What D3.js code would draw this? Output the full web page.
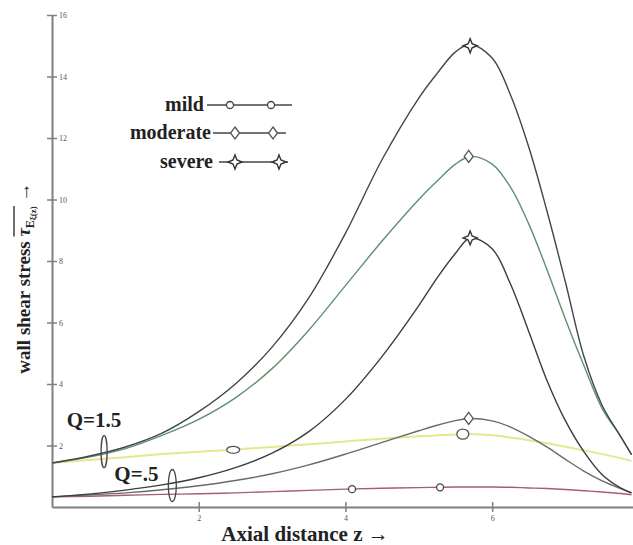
<!DOCTYPE html>
<html>
<head>
<meta charset="utf-8">
<script src="https://cdn.jsdelivr.net/npm/d3@7"></script>
<style>
  body { margin: 0; background: #fff; }
  svg text { font-family: "Liberation Serif", "DejaVu Serif", serif; }
</style>
</head>
<body>
<div id="chart"></div>
<script>

const zVals = [0, 0.5, 1, 1.5, 2, 2.5, 3, 3.5, 4, 4.5, 5, 5.25, 5.5, 5.7, 6, 6.25, 6.5, 6.75, 7, 7.25, 7.5, 7.75, 7.9];

// Q = 1.5
const severeHigh   = [1.43, 1.65, 1.95, 2.4, 3.1, 4.0, 5.2, 6.8, 8.9, 11.3, 13.3, 14.1, 14.8, 15.05, 14.6, 13.4, 11.7, 9.6, 7.3, 4.9, 3.3, 2.3, 1.7];
const moderateHigh = [1.43, 1.62, 1.9, 2.33, 2.85, 3.55, 4.5, 5.75, 7.2, 8.65, 10.0, 10.6, 11.15, 11.4, 11.15, 10.4, 9.2, 7.7, 6.1, 4.6, 3.2, 2.3, 1.7];
const mildHigh     = [1.43, 1.53, 1.62, 1.72, 1.8, 1.87, 1.95, 2.04, 2.13, 2.22, 2.3, 2.33, 2.36, 2.37, 2.33, 2.26, 2.17, 2.07, 1.96, 1.84, 1.72, 1.59, 1.5];

// Q = 0.5
const severeLow    = [0.33, 0.42, 0.55, 0.72, 0.95, 1.28, 1.75, 2.45, 3.5, 4.9, 6.55, 7.45, 8.25, 8.75, 8.4, 7.25, 5.7, 4.1, 2.8, 1.8, 1.05, 0.62, 0.45];
const moderateLow  = [0.33, 0.39, 0.46, 0.56, 0.69, 0.86, 1.08, 1.37, 1.72, 2.1, 2.48, 2.66, 2.81, 2.88, 2.8, 2.6, 2.3, 1.95, 1.55, 1.17, 0.85, 0.6, 0.47];
const mildLow      = [0.33, 0.35, 0.38, 0.41, 0.43, 0.46, 0.5, 0.54, 0.58, 0.61, 0.63, 0.64, 0.65, 0.65, 0.65, 0.64, 0.62, 0.6, 0.57, 0.53, 0.49, 0.44, 0.4];

const xTicks = [2, 4, 6];
const yTicks = [2, 4, 6, 8, 10, 12, 14, 16];
const legendLabels = ["mild", "moderate", "severe"];

// marker spots on the curves: [z, value, kind]
const markers = [
  [5.7, 15.0, "severe"], [5.7, 8.75, "severe"],
  [5.68, 11.4, "moderate"], [5.68, 2.88, "moderate"],
  [4.09, 0.58, "mild"], [5.29, 0.64, "mild"],
  [2.47, 1.86, "mildWide"], [5.6, 2.37, "mildRound"]
];

// Q labels and the ellipses that bundle the curves
const qLabels = [["Q=1.5", 0.2, 2.6], ["Q=.5", 0.85, 0.85]];
const qRings = [[0.71, 1.8], [1.64, 0.7]];

const width = 633, height = 545;

const svg = d3.select("#chart").append("svg")
  .attr("width", width)
  .attr("height", height);

const x = d3.scaleLinear().domain([0, 7.92]).range([52, 633]);
const y = d3.scaleLinear().domain([0, 16]).range([507, 15]);

// y axis, ticks cross the line and labels sit inside
const yAxis = svg.append("g")
  .attr("transform", `translate(${x(0)},0)`)
  .call(d3.axisRight(y).tickValues(yTicks).tickSize(5).tickSizeOuter(0).tickPadding(2));
yAxis.select(".domain").attr("stroke", "#808080").attr("stroke-width", 2);
yAxis.selectAll(".tick line").attr("x1", -5).attr("stroke", "#808080").attr("stroke-width", 1.5);
yAxis.selectAll(".tick text").attr("font-size", 8).attr("fill", "#555").attr("font-family", "Liberation Serif");

const xAxis = svg.append("g")
  .attr("transform", `translate(0,${y(0)})`)
  .call(d3.axisBottom(x).tickValues(xTicks).tickSize(5).tickSizeOuter(0).tickPadding(3));
xAxis.select(".domain").attr("stroke", "#808080").attr("stroke-width", 2);
xAxis.selectAll(".tick line").attr("y1", -5).attr("stroke", "#808080").attr("stroke-width", 1.5);
xAxis.selectAll(".tick text").attr("font-size", 8).attr("fill", "#555").attr("font-family", "Liberation Serif");

// curves
const series = [
  { vals: mildHigh, color: "#e6e690", w: 2 },
  { vals: mildLow, color: "#a35f6b", w: 1.4 },
  { vals: moderateLow, color: "#6a6a6a", w: 1.4 },
  { vals: severeLow, color: "#3c3c3c", w: 1.4 },
  { vals: moderateHigh, color: "#5f9070", w: 1.4 },
  { vals: severeHigh, color: "#3e4651", w: 1.4 }
];

const line = d3.line()
  .x(d => x(d[0]))
  .y(d => y(d[1]))
  .curve(d3.curveCatmullRom.alpha(0.5));

svg.selectAll("path.curve")
  .data(series)
  .enter().append("path")
  .attr("class", "curve")
  .attr("fill", "none")
  .attr("stroke", d => d.color)
  .attr("stroke-width", d => d.w)
  .attr("d", d => line(zVals.map((z, i) => [z, d.vals[i]])));

// marker shapes
function starPath(r) {
  const pts = [];
  for (let i = 0; i < 8; i++) {
    const a = i * Math.PI / 4 - Math.PI / 2;
    const rr = i % 2 === 0 ? r : r * 0.4;
    pts.push([rr * Math.cos(a), rr * Math.sin(a)]);
  }
  return "M" + pts.join("L") + "Z";
}
function diamondPath(r) {
  return `M0,${-r}L${r * 0.75},0L0,${r}L${-r * 0.75},0Z`;
}

function drawMarker(g, kind) {
  if (kind === "severe") {
    g.append("path").attr("d", starPath(7)).attr("fill", "#fff").attr("stroke", "#333").attr("stroke-width", 1.4);
  } else if (kind === "moderate") {
    g.append("path").attr("d", diamondPath(6)).attr("fill", "#fff").attr("stroke", "#555").attr("stroke-width", 1.3);
  } else if (kind === "mild") {
    g.append("circle").attr("r", 3.5).attr("fill", "#fff").attr("stroke", "#444").attr("stroke-width", 1.3);
  } else if (kind === "mildWide") {
    g.append("ellipse").attr("rx", 6.5).attr("ry", 3.5).attr("fill", "#fff").attr("stroke", "#555").attr("stroke-width", 1.3);
  } else {
    g.append("ellipse").attr("rx", 6).attr("ry", 5).attr("fill", "#fff").attr("stroke", "#555").attr("stroke-width", 1.3);
  }
}

markers.forEach(m => {
  const g = svg.append("g").attr("transform", `translate(${x(m[0])},${y(m[1])})`);
  drawMarker(g, m[2]);
});

// Q annotations
qRings.forEach((r, i) => {
  svg.append("ellipse")
    .attr("cx", x(r[0])).attr("cy", y(r[1]))
    .attr("rx", i === 0 ? 3 : 4).attr("ry", 16)
    .attr("fill", "none").attr("stroke", "#444").attr("stroke-width", 1.3);
});
svg.selectAll("text.qlab")
  .data(qLabels)
  .enter().append("text")
  .attr("class", "qlab")
  .attr("x", d => x(d[1]))
  .attr("y", d => y(d[2]))
  .attr("font-size", 21)
  .attr("font-weight", "bold")
  .attr("fill", "#222")
  .text(d => d[0]);

// legend
const legend = svg.append("g");
const legendRows = [
  { y: 105, textEnd: 204, x1: 207, x2: 292, marks: [230, 271], kind: "mild" },
  { y: 133, textEnd: 211, x1: 213, x2: 286, marks: [235, 273], kind: "moderate" },
  { y: 162, textEnd: 213, x1: 219, x2: 288, marks: [235, 279], kind: "severe" }
];
legendRows.forEach((r, i) => {
  legend.append("text")
    .attr("x", r.textEnd).attr("y", r.y + 6)
    .attr("text-anchor", "end")
    .attr("font-size", 20)
    .attr("font-weight", "bold")
    .attr("fill", "#222")
    .text(legendLabels[i]);
  legend.append("line")
    .attr("x1", r.x1).attr("x2", r.x2).attr("y1", r.y).attr("y2", r.y)
    .attr("stroke", "#444").attr("stroke-width", 1.3);
  r.marks.forEach(mx => {
    const g = legend.append("g").attr("transform", `translate(${mx},${r.y})`);
    drawMarker(g, r.kind);
  });
});

// axis titles
svg.append("text")
  .attr("x", 305).attr("y", 541)
  .attr("text-anchor", "middle")
  .attr("font-size", 21)
  .attr("font-weight", "bold")
  .attr("fill", "#222")
  .text("Axial distance z \u2192");

const yTitleG = svg.append("g").attr("transform", "translate(30,278) rotate(-90)");
const yTitle = yTitleG.append("text")
  .attr("text-anchor", "middle")
  .attr("font-size", 19)
  .attr("font-weight", "bold")
  .attr("fill", "#222");
yTitle.append("tspan").text("wall shear stress ");
yTitle.append("tspan").attr("font-style", "italic").text("\u03C4");
yTitle.append("tspan").attr("font-size", 12).attr("dy", 4).text("E");
yTitle.append("tspan").attr("font-size", 9).attr("dy", 2).text("\u03BE(z)");
yTitle.append("tspan").attr("dy", -6).text(" \u2192");

// bar over tau and its subscript
const node = yTitle.node();
const full = node.textContent;
const tauIdx = full.indexOf("\u03C4");
const subEnd = full.indexOf(")");
const xa = node.getStartPositionOfChar(tauIdx).x;
const xb = node.getEndPositionOfChar(subEnd).x;
yTitleG.append("line")
  .attr("x1", xa).attr("x2", xb).attr("y1", -16).attr("y2", -16)
  .attr("stroke", "#222").attr("stroke-width", 1.3);

</script>
</body>
</html>
